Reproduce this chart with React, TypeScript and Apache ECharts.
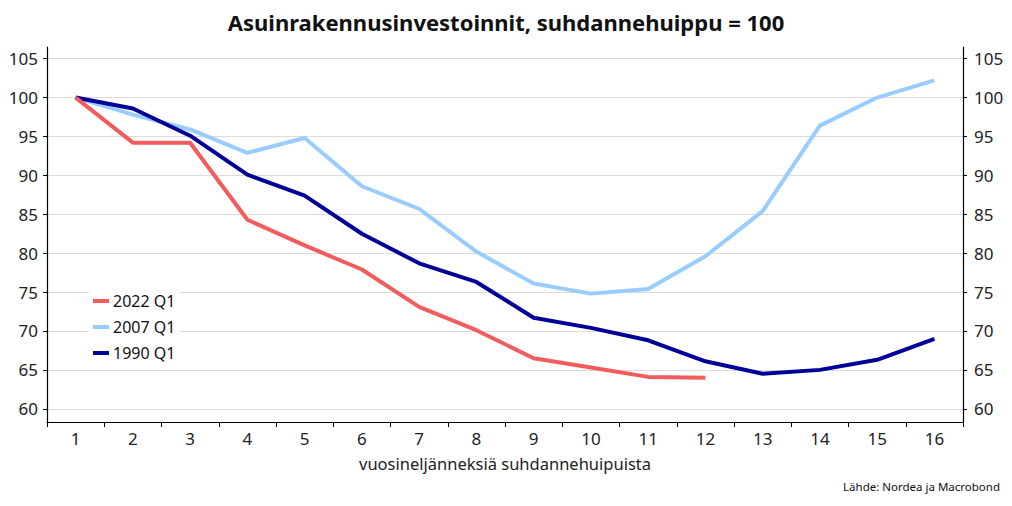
import React, { useEffect, useRef } from "react";
import * as echarts from "echarts";

const categories = ["1", "2", "3", "4", "5", "6", "7", "8", "9", "10", "11", "12", "13", "14", "15", "16"];
const series2022 = [100, 94.2, 94.2, 84.3, 81.0, 77.9, 73.1, 70.1, 66.5, 65.3, 64.1, 64.0];
const series2007 = [100, 97.8, 95.9, 92.9, 94.8, 88.6, 85.7, 80.2, 76.1, 74.8, 75.4, 79.6, 85.4, 96.4, 100.0, 102.2];
const series1990 = [100, 98.6, 95.1, 90.1, 87.4, 82.5, 78.7, 76.3, 71.7, 70.4, 68.8, 66.1, 64.5, 65.0, 66.3, 69.0];
const yTicks = [60, 65, 70, 75, 80, 85, 90, 95, 100, 105];

const FONT = "'Noto Sans', sans-serif";

export default function App() {
  const ref = useRef<HTMLDivElement>(null);
  useEffect(() => {
    if (!ref.current) return;
    const chart = echarts.init(ref.current, null, { renderer: "svg" });
    const yAxisBase = (pos: "left" | "right") => ({
      type: "value",
      position: pos,
      min: 58.3,
      max: 106.5,
      axisLine: { show: true, lineStyle: { color: "#000", width: 1.2 } },
      axisTick: { show: true, length: 4, customValues: yTicks, lineStyle: { color: "#000" } },
      axisLabel: {
        customValues: yTicks,
        color: "#222",
        fontSize: 17,
        fontFamily: FONT,
        margin: pos === "left" ? 9 : 11,
      },
      splitLine: { show: pos === "left", lineStyle: { color: "#dcdcdc", width: 1 } },
    });
    chart.setOption({
      animation: false,
      backgroundColor: "#fff",
      title: {
        text: "Asuinrakennusinvestoinnit, suhdannehuippu = 100",
        left: "center",
        top: 6,
        textStyle: { fontFamily: FONT, fontWeight: "bold", fontSize: 22, color: "#111" },
      },
      grid: { left: 47, right: 49, top: 47, bottom: 84, containLabel: false },
      legend: {
        orient: "vertical",
        left: 89,
        top: 290,
        backgroundColor: "#fff",
        padding: [1, 4, 1, 4],
        itemWidth: 16,
        itemHeight: 4,
        itemGap: 6,
        icon: "rect",
        textStyle: { fontFamily: FONT, fontSize: 16, color: "#111", lineHeight: 20, padding: [0, 0, 0, -1] },
        data: ["2022 Q1", "2007 Q1", "1990 Q1"],
      },
      xAxis: {
        type: "category",
        data: categories,
        boundaryGap: true,
        axisLine: { lineStyle: { color: "#000", width: 1.2 } },
        axisTick: { show: true, length: 5, lineStyle: { color: "#000" } },
        axisLabel: { color: "#222", fontSize: 17, fontFamily: FONT, margin: 8 },
        name: "vuosineljänneksiä suhdannehuipuista",
        nameLocation: "middle",
        nameGap: 33,
        nameTextStyle: { color: "#222", fontSize: 16.5, fontFamily: FONT },
      },
      yAxis: [yAxisBase("left"), yAxisBase("right")],
      graphic: [
        {
          type: "text",
          right: 12,
          top: 480,
          style: { text: "Lähde: Nordea ja Macrobond", fontSize: 11.5, fontFamily: FONT, fill: "#111" },
        },
      ],
      series: [
        {
          name: "1990 Q1",
          type: "line",
          data: series1990,
          symbol: "none",
          lineStyle: { color: "#000099", width: 4 },
          itemStyle: { color: "#000099" },
          z: 3,
        },
        {
          name: "2007 Q1",
          type: "line",
          data: series2007,
          symbol: "none",
          lineStyle: { color: "#99CCFF", width: 4 },
          itemStyle: { color: "#99CCFF" },
          z: 2,
        },
        {
          name: "2022 Q1",
          type: "line",
          data: series2022,
          symbol: "none",
          lineStyle: { color: "#F25C5C", width: 4 },
          itemStyle: { color: "#F25C5C" },
          z: 4,
        },
      ],
    });
    return () => chart.dispose();
  }, []);
  return <div ref={ref} style={{ width: 1012, height: 506, position: "absolute", left: 0, top: 0 }} />;
}
